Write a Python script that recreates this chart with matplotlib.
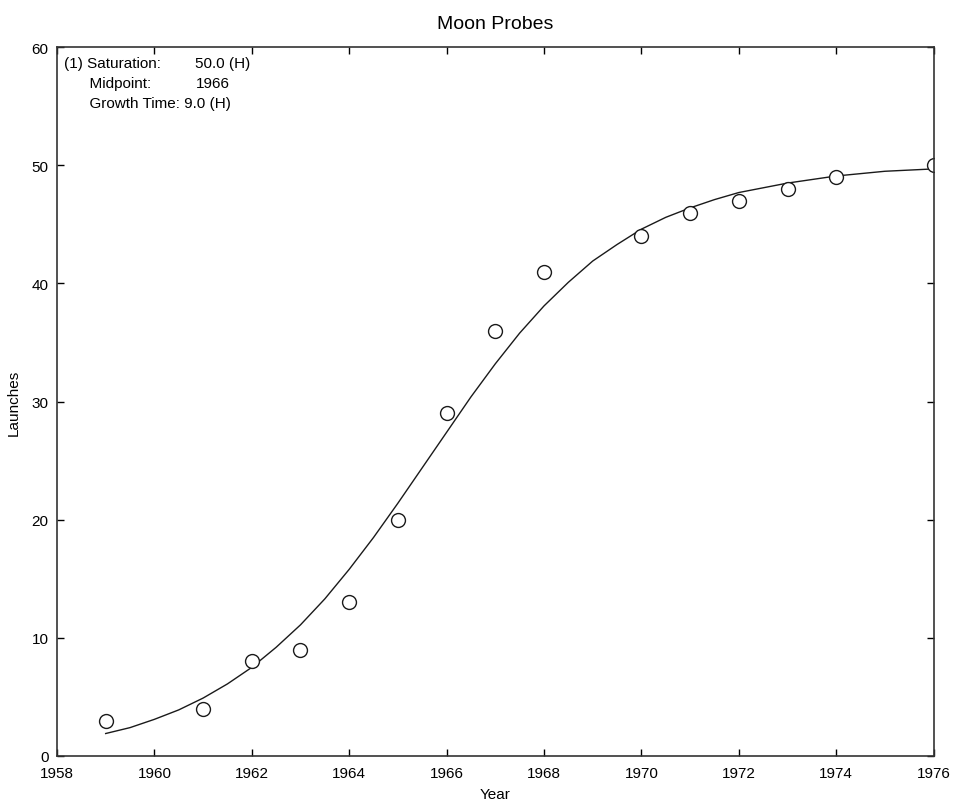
import matplotlib.pyplot as plt
import numpy as np

plt.rcParams['font.family'] = ['Liberation Sans', 'DejaVu Sans']

# Observed launches (cumulative)
years = [1959, 1961, 1962, 1963, 1964, 1965, 1966, 1967, 1968,
         1970, 1971, 1972, 1973, 1974, 1976]
launches = [3, 4, 8, 9, 13, 20, 29, 36, 41, 44, 46, 47, 48, 49, 50]

# Fitted curve
fit_years = [1959, 1959.5, 1960, 1960.5, 1961, 1961.5, 1962, 1962.5, 1963,
             1963.5, 1964, 1964.5, 1965, 1965.5, 1966, 1966.5, 1967, 1967.5,
             1968, 1968.5, 1969, 1969.5, 1970, 1970.5, 1971, 1971.5, 1972,
             1972.5, 1973, 1973.5, 1974, 1974.5, 1975, 1975.5, 1976]
fit_launches = [1.9, 2.4, 3.1, 3.9, 4.9, 6.1, 7.5, 9.2, 11.1,
                13.3, 15.8, 18.5, 21.4, 24.4, 27.4, 30.4, 33.2, 35.8,
                38.1, 40.1, 41.9, 43.3, 44.6, 45.6, 46.4, 47.1, 47.7,
                48.1, 48.5, 48.8, 49.1, 49.3, 49.5, 49.6, 49.7]

info_labels = ["(1) Saturation:", "      Midpoint:", "      Growth Time: 9.0 (H)"]
info_values = ["50.0 (H)", "1966", ""]

fig = plt.figure(figsize=(9.56, 8.04), dpi=100)
ax = fig.add_axes([0.0596, 0.0585, 0.917, 0.8815])

ax.plot(fit_years, fit_launches, color='#1a1a1a', linewidth=1.0)
ax.plot(years, launches, linestyle='none', marker='o', markersize=10,
        markerfacecolor='white', markeredgecolor='#1a1a1a', markeredgewidth=1.0)

ax.set_xlim(1958, 1976)
ax.set_ylim(0, 60)
ax.set_xticks(np.arange(1958, 1977, 2))
ax.set_yticks(np.arange(0, 61, 10))
ax.tick_params(direction='in', top=True, right=True, length=5,
               labelsize=11, width=1)
ax.tick_params(axis='x', pad=7)
ax.tick_params(axis='y', pad=6)
for s in ax.spines.values():
    s.set_linewidth(1.2)
    s.set_color('#333333')

ax.set_title("Moon Probes", fontsize=14, pad=14)
ax.set_xlabel("Year", fontsize=11, labelpad=5)
ax.set_ylabel("Launches", fontsize=11, labelpad=8)

for i, (lab, val) in enumerate(zip(info_labels, info_values)):
    y = 0.978 - i * 0.028
    ax.text(0.008, y, lab, transform=ax.transAxes, va='center', ha='left', fontsize=11)
    if val:
        ax.text(0.158, y, val, transform=ax.transAxes, va='center', ha='left', fontsize=11)

plt.savefig("out.png", dpi=100)
